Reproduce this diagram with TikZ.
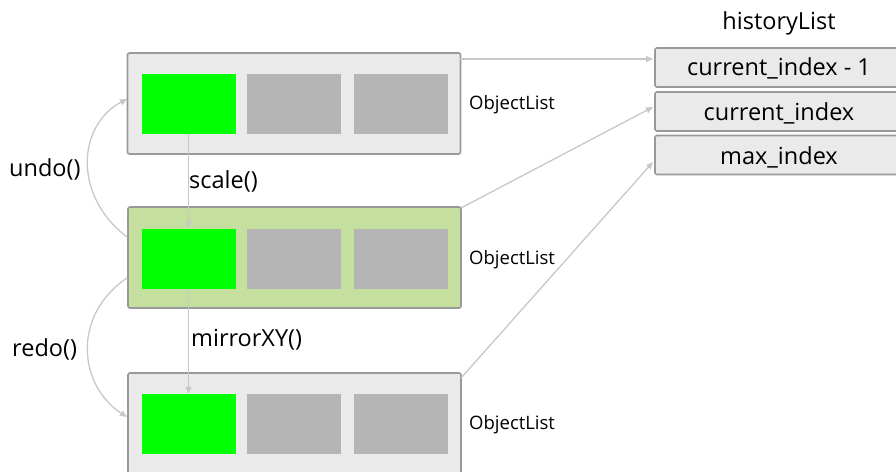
\documentclass[tikz,border=0pt]{standalone}
\usepackage{fontspec}
\setmainfont{Open Sans}
\usetikzlibrary{arrows.meta}
\definecolor{boxgray}{HTML}{EAEAEA}
\definecolor{boxgreen}{HTML}{C5DF9F}
\definecolor{edgegray}{HTML}{999999}
\definecolor{cellgray}{HTML}{B5B5B5}
\definecolor{cellgreen}{HTML}{00FF00}
\definecolor{arrowgray}{HTML}{C8C8C8}
\tikzset{
  listbox/.style={draw=edgegray, line width=1.6pt, rounded corners=2pt, minimum width=333pt, minimum height=101pt, inner sep=0pt},
  cell/.style={minimum width=94pt, minimum height=60pt, inner sep=0pt},
  greencell/.style={cell, fill=cellgreen},
  graycell/.style={cell, fill=cellgray},
  hbox/.style={draw=edgegray, line width=1.6pt, rounded corners=2pt, fill=boxgray, minimum width=245pt, minimum height=39pt, inner sep=0pt},
  conn/.style={draw=arrowgray, line width=1.3pt, -{Triangle[length=7pt,width=6pt]}},
  lbl/.style={font=\fontsize{23.5}{26}\selectfont, inner sep=0pt},
  olbl/.style={font=\fontsize{18.5}{21}\selectfont, inner sep=0pt, anchor=west}
}
\begin{document}
\begin{tikzpicture}[x=1pt,y=-1pt]
\useasboundingbox (0,0) rectangle (896,471);
\clip (0,0) rectangle (896,471);
% object lists
\node[listbox, fill=boxgray] (b1) at (294,103.5) {};
\node[listbox, fill=boxgreen] (b2) at (294.5,257.5) {};
\node[listbox, fill=boxgray] (b3) at (294.5,423.5) {};
\foreach \b/\y in {1/104, 2/258.5, 3/424} {
  \node[greencell] (g\b) at (188.5,\y) {};
  \node[graycell] (p\b) at (294,\y) {};
  \node[graycell] (q\b) at (401,\y) {};
}
\node[olbl] (o1) at (469,105) {ObjectList};
\node[olbl] (o2) at (469,260) {ObjectList};
\node[olbl] (o3) at (469,425) {ObjectList};
% history list
\node[lbl] (ht) at (779,23) {historyList};
\node[hbox] (h1) at (777.5,67.5) {};
\node[hbox] (h2) at (777.5,111.5) {};
\node[hbox] (h3) at (777.5,155) {};
\node[lbl] at (779,68) {current\_index - 1};
\node[lbl] at (779,113) {current\_index};
\node[lbl] at (779,157) {max\_index};
% connectors to history list
\coordinate (s1) at (460,59);
\coordinate (e1) at (653,59);
\coordinate (s2) at (461,208);
\coordinate (e2) at (653,107);
\coordinate (s3) at (461,378);
\coordinate (e3) at (653,162);
\draw[conn] (s1) -- (e1);
\draw[conn] (s2) -- (e2);
\draw[conn] (s3) -- (e3);
% vertical operations
\draw[conn] (g1.south) -- (g2.north);
\draw[conn] (g2.south) -- (g3.north);
\node[lbl, anchor=west] (sc) at (189,181) {scale()};
\node[lbl, anchor=west] (mx) at (191,340) {mirrorXY()};
% undo / redo
\coordinate (u1) at (127,237);
\coordinate (u2) at (127,99);
\coordinate (r1) at (127,278);
\coordinate (r2) at (127,417);
\draw[conn] (u1) .. controls (72,195) and (78,125) .. (u2);
\draw[conn] (r1) .. controls (72,315) and (78,385) .. (r2);
\node[lbl, anchor=west] (un) at (9,169) {undo()};
\node[lbl, anchor=west] (re) at (12,349) {redo()};
\end{tikzpicture}
\end{document}
